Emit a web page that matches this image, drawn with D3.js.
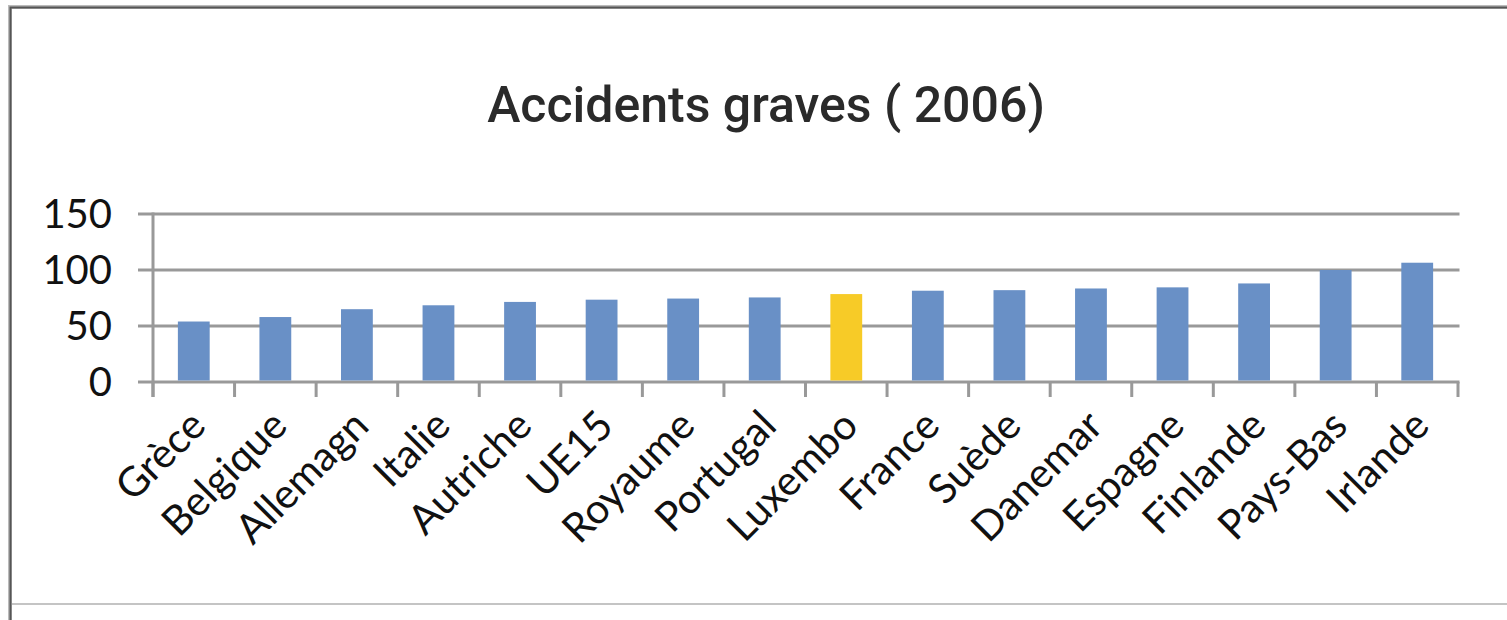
<!DOCTYPE html>
<html>
<head>
<meta charset="utf-8">
<script src="https://cdn.jsdelivr.net/npm/d3@7"></script>
<style>
  body { margin: 0; background: #fff; }
  svg { display: block; }
  .grid line { stroke: #999; stroke-width: 3; }
  .ylab { font-family: Lato, "Open Sans", sans-serif; font-size: 40px; fill: #111; }
  .xlab { font-family: Lato, "Open Sans", sans-serif; font-size: 41px; fill: #111; }
  .title { font-family: Roboto, "DejaVu Sans", sans-serif; font-size: 50px; font-weight: 500; fill: #2a2a2a; }
</style>
</head>
<body>
<svg id="chart"></svg>
<script>
const width = 1507;
const height = 620;

const countries = ["Grèce", "Belgique", "Allemagn", "Italie", "Autriche", "UE15", "Royaume", "Portugal",
    "Luxembo", "France", "Suède", "Danemar", "Espagne", "Finlande", "Pays-Bas", "Irlande"];
const values = [54, 58, 65, 68.5, 71.5, 73.5, 74.5, 75.5, 78.5, 81.5, 82, 83.5, 84.5, 88, 100, 106.5];
const highlight = "Luxembo";
const yTicks = [0, 50, 100, 150];

const plot = { left: 153, right: 1458, top: 214, bottom: 382 };

const svg = d3.select("#chart")
    .attr("width", width)
    .attr("height", height);

// frame
svg.append("rect")
    .attr("x", 10).attr("y", 7)
    .attr("width", width + 10).attr("height", height + 10)
    .attr("fill", "none")
    .attr("stroke", "#bbb")
    .attr("stroke-width", 4);
svg.append("rect")
    .attr("x", 10.5).attr("y", 7.5)
    .attr("width", width + 10).attr("height", height + 10)
    .attr("fill", "none")
    .attr("stroke", "#555")
    .attr("stroke-width", 2);
svg.append("line")
    .attr("x1", 12).attr("x2", width)
    .attr("y1", 604).attr("y2", 604)
    .attr("stroke", "#c4c4c4")
    .attr("stroke-width", 2);

svg.append("text")
    .attr("class", "title")
    .attr("x", 766)
    .attr("y", 122)
    .attr("text-anchor", "middle")
    .text("Accidents graves ( 2006)");

const x = d3.scaleBand()
    .domain(countries)
    .range([plot.left, plot.right])
    .paddingInner(0.61)
    .paddingOuter(0.305);

const y = d3.scaleLinear()
    .domain([0, 150])
    .range([plot.bottom, plot.top]);

const step = x.step();

// horizontal gridlines + y ticks
const grid = svg.append("g").attr("class", "grid");
grid.selectAll(".h")
    .data(yTicks)
    .enter()
    .append("line")
    .attr("x1", plot.left - 15)
    .attr("x2", plot.right + 1.5)
    .attr("y1", d => y(d))
    .attr("y2", d => y(d));

// vertical axis line
grid.append("line")
    .attr("x1", plot.left).attr("x2", plot.left)
    .attr("y1", y(150) - 1.5).attr("y2", plot.bottom + 15);

// x ticks at category boundaries
grid.selectAll(".t")
    .data(d3.range(countries.length + 1))
    .enter()
    .append("line")
    .attr("x1", i => plot.left + i * step)
    .attr("x2", i => plot.left + i * step)
    .attr("y1", plot.bottom)
    .attr("y2", plot.bottom + 15);

// bars
svg.selectAll(".bar")
    .data(countries)
    .enter()
    .append("rect")
    .attr("class", "bar")
    .attr("x", d => x(d))
    .attr("width", x.bandwidth())
    .attr("y", (d, i) => y(values[i]))
    .attr("height", (d, i) => y(0) - y(values[i]) - 1.5)
    .attr("fill", d => d === highlight ? "#f7cb27" : "#6990c6");

// y labels
svg.selectAll(".ylab")
    .data(yTicks)
    .enter()
    .append("text")
    .attr("class", "ylab")
    .attr("x", 112)
    .attr("y", d => y(d))
    .attr("dy", "0.36em")
    .attr("text-anchor", "end")
    .text(d => d);

// x labels, rotated
svg.selectAll(".xlab")
    .data(countries)
    .enter()
    .append("text")
    .attr("class", "xlab")
    .attr("text-anchor", "end")
    .attr("transform", d => `translate(${x(d) + x.bandwidth() / 2 + 14}, ${plot.bottom + 46}) rotate(-45)`)
    .text(d => d);
</script>
</body>
</html>
